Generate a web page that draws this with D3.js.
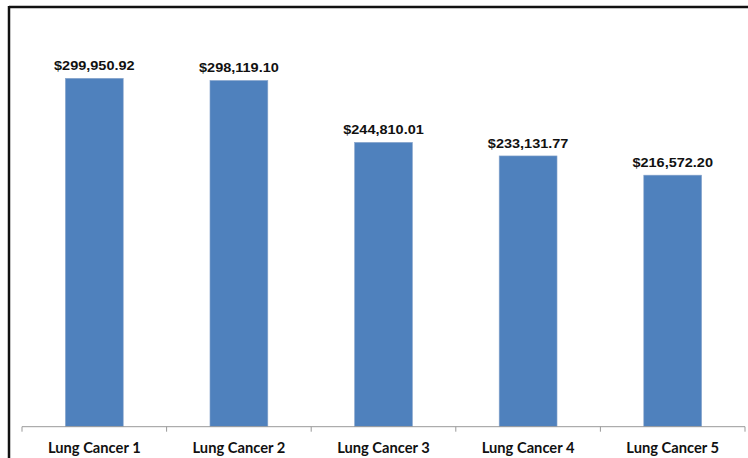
<!DOCTYPE html>
<meta charset="utf-8">
<script src="https://d3js.org/d3.v7.min.js"></script>
<style>
  body { margin: 0; background: #fff; }
</style>
<div id="chart"></div>
<script>
  // data
  const categories = ["Lung Cancer 1", "Lung Cancer 2", "Lung Cancer 3", "Lung Cancer 4", "Lung Cancer 5"];
  const costs = [299950.92, 298119.10, 244810.01, 233131.77, 216572.20];

  const W = 748, H = 458;
  const plot = { left: 22, right: 745, top: 20.2, bottom: 426.7 };

  const svg = d3.select("#chart").append("svg")
    .attr("width", W)
    .attr("height", H);

  // frame: only top and left edges show
  svg.append("line").attr("x1", 9).attr("x2", W).attr("y1", 7).attr("y2", 7)
    .attr("stroke", "#111").attr("stroke-width", 2.5);
  svg.append("line").attr("x1", 9).attr("x2", 9).attr("y1", 6).attr("y2", H)
    .attr("stroke", "#111").attr("stroke-width", 2.5);

  const x = d3.scaleBand()
    .domain(categories)
    .range([plot.left, plot.right])
    .paddingInner(0.6)
    .paddingOuter(0.3);

  const y = d3.scaleLinear()
    .domain([0, 350000])
    .range([plot.bottom, plot.top]);

  const fmt = d3.format("$,.2f");

  // bars
  svg.selectAll("rect.bar")
    .data(costs)
    .join("rect")
    .attr("class", "bar")
    .attr("x", (d, i) => x(categories[i]))
    .attr("y", d => y(d))
    .attr("width", x.bandwidth())
    .attr("height", d => y(0) - y(d))
    .attr("fill", "#4F81BD")
    .attr("stroke", "#8aa6cc")
    .attr("stroke-width", 0.6);

  // value labels
  svg.selectAll("text.val")
    .data(costs)
    .join("text")
    .attr("class", "val")
    .attr("transform", (d, i) => `translate(${x(categories[i]) + x.bandwidth() / 2},${y(d) - 8}) scale(1.16,1)`)
    .attr("text-anchor", "middle")
    .style("font-family", "Liberation Sans, Arial, sans-serif")
    .style("font-weight", "bold")
    .style("font-size", "12.5px")
    .attr("fill", "#111")
    .text(d => fmt(d));

  // x axis with boundary ticks
  const band = (plot.right - plot.left) / categories.length;
  svg.append("line")
    .attr("x1", plot.left).attr("x2", plot.right)
    .attr("y1", plot.bottom).attr("y2", plot.bottom)
    .attr("stroke", "#999").attr("stroke-width", 1);

  svg.selectAll("line.tick")
    .data(d3.range(categories.length + 1))
    .join("line")
    .attr("class", "tick")
    .attr("x1", i => plot.left + i * band).attr("x2", i => plot.left + i * band)
    .attr("y1", plot.bottom).attr("y2", plot.bottom + 5)
    .attr("stroke", "#999").attr("stroke-width", 1);

  svg.selectAll("text.cat")
    .data(categories)
    .join("text")
    .attr("class", "cat")
    .attr("x", d => x(d) + x.bandwidth() / 2)
    .attr("y", 452.7)
    .attr("text-anchor", "middle")
    .style("font-family", "Lato, 'Open Sans', sans-serif")
    .style("font-weight", "bold")
    .style("font-size", "14.7px")
    .attr("fill", "#111")
    .text(d => d);
</script>
